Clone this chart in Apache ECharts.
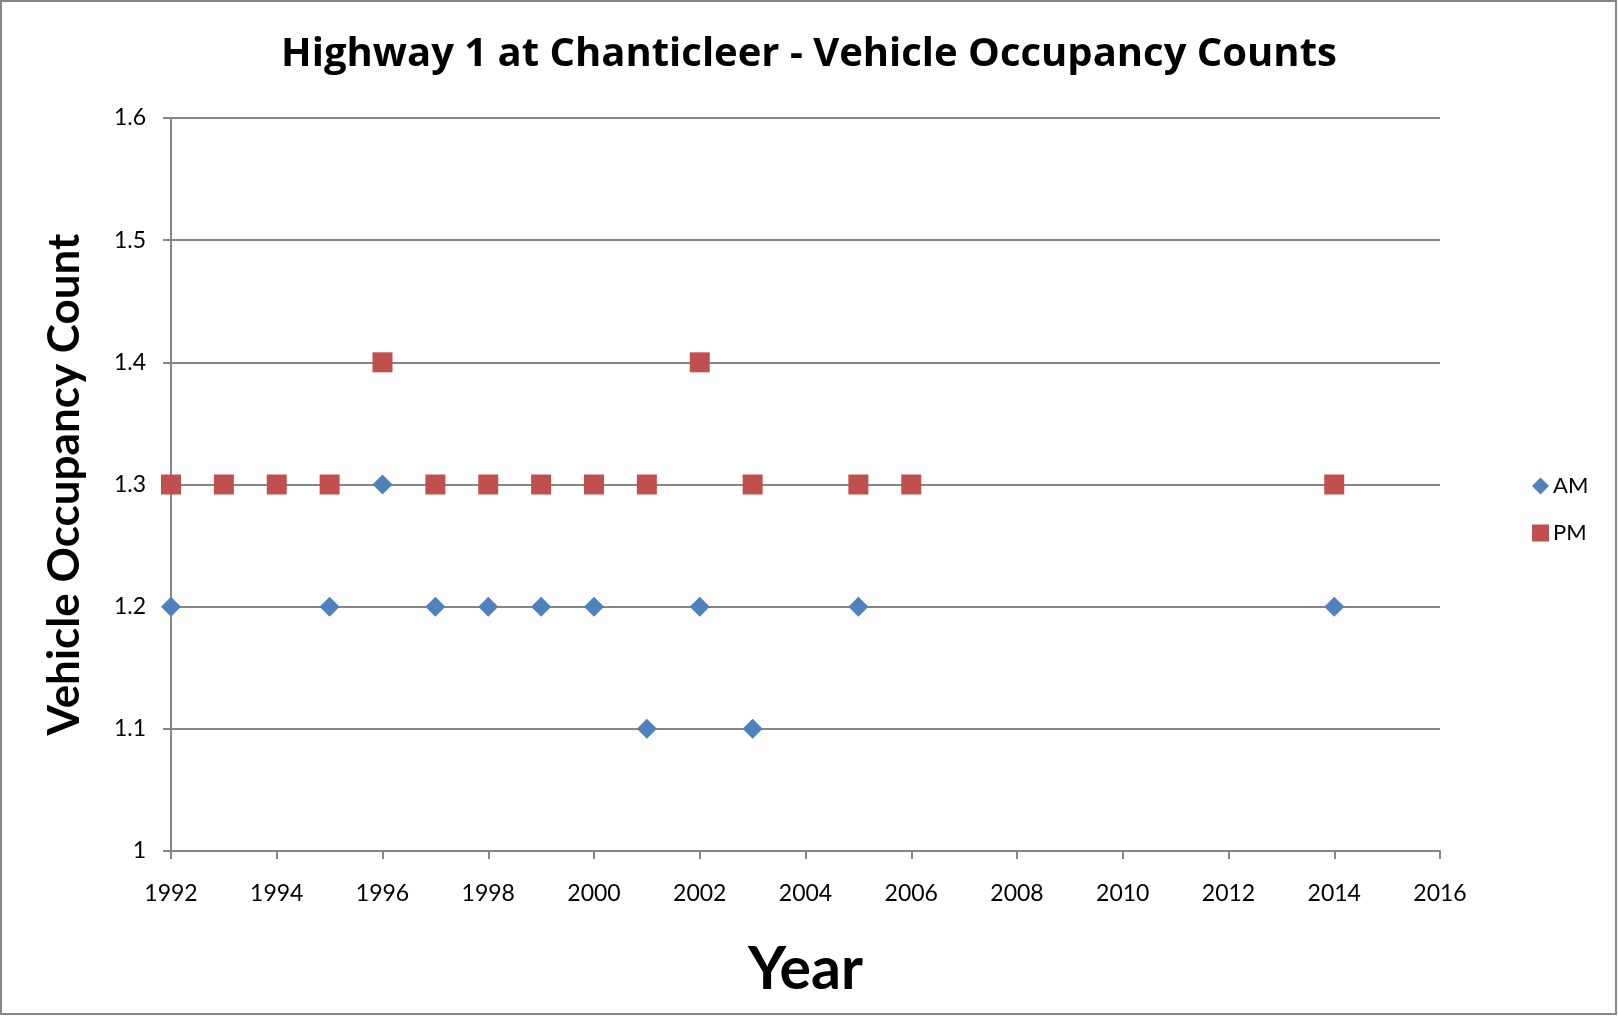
<!DOCTYPE html>
<html>
<head>
<meta charset="utf-8">
<title>Highway 1 at Chanticleer - Vehicle Occupancy Counts</title>
<script src="https://cdn.jsdelivr.net/npm/echarts@6/dist/echarts.min.js"></script>
<style>
  html, body { margin: 0; padding: 0; background: #fff; }
  #chart { width: 1618px; height: 1016px; }
</style>
</head>
<body>
<div id="chart"></div>
<script>
// AM counts
var amYears  = [1992, 1995, 1996, 1997, 1998, 1999, 2000, 2001, 2002, 2003, 2005, 2014];
var amValues = [1.2,  1.2,  1.3,  1.2,  1.2,  1.2,  1.2,  1.1,  1.2,  1.1,  1.2,  1.2];
// PM counts
var pmYears  = [1992, 1993, 1994, 1995, 1996, 1997, 1998, 1999, 2000, 2001, 2002, 2003, 2005, 2006, 2014];
var pmValues = [1.3,  1.3,  1.3,  1.3,  1.4,  1.3,  1.3,  1.3,  1.3,  1.3,  1.4,  1.3,  1.3,  1.3,  1.3];

var font = 'Lato';
var gray = '#868686';

function pairs(xs, ys) {
    return xs.map(function (x, i) { return [x, ys[i]]; });
}

var chart = echarts.init(document.getElementById('chart'));
var option = {
    animation: false,
    textStyle: { fontFamily: font, color: '#000' },
    title: {
        text: 'Highway 1 at Chanticleer - Vehicle Occupancy Counts',
        left: 'center',
        top: 30,
        textStyle: { fontFamily: 'Open Sans', fontSize: 40, fontWeight: 'bold', color: '#000' }
    },
    graphic: [{
        type: 'rect',
        shape: { x: 1, y: 1, width: 1615, height: 1013 },
        style: { fill: 'none', stroke: gray, lineWidth: 2 },
        silent: true
    }],
    legend: {
        orient: 'vertical',
        left: 1527,
        top: 470,
        itemGap: 25,
        itemWidth: 17,
        itemHeight: 17,
        textStyle: { fontFamily: font, fontSize: 22, color: '#000', padding: [0, 0, 0, -1] },
        data: [
            { name: 'AM', icon: 'diamond' },
            { name: 'PM', icon: 'rect' }
        ]
    },
    grid: { left: 171, right: 178, top: 118, bottom: 165 },
    xAxis: {
        type: 'value',
        min: 1992,
        max: 2016,
        interval: 2,
        name: 'Year',
        nameLocation: 'middle',
        nameGap: 89,
        nameTextStyle: { fontFamily: font, fontSize: 59, fontWeight: 'bold', color: '#000' },
        axisLine: { show: true, lineStyle: { color: gray, width: 2 } },
        axisTick: { show: true, inside: false, length: 8, lineStyle: { color: gray, width: 2 } },
        axisLabel: { margin: 31, fontSize: 23, color: '#000', formatter: function (v) { return String(v); } },
        splitLine: { show: false }
    },
    yAxis: {
        type: 'value',
        min: 1,
        max: 1.6,
        interval: 0.1,
        name: 'Vehicle Occupancy Count',
        nameLocation: 'middle',
        nameGap: 84,
        nameTextStyle: { fontFamily: font, fontSize: 44, fontWeight: 'bold', color: '#000' },
        axisLine: { show: true, lineStyle: { color: gray, width: 2 } },
        axisTick: { show: true, inside: false, length: 8, lineStyle: { color: gray, width: 2 } },
        axisLabel: { margin: 25, fontSize: 23, color: '#000' },
        splitLine: { show: true, lineStyle: { color: gray, width: 2 } }
    },
    series: [
        {
            name: 'AM',
            type: 'scatter',
            symbol: 'diamond',
            symbolSize: 20,
            itemStyle: { color: '#4F81BD', opacity: 1 },
            data: pairs(amYears, amValues)
        },
        {
            name: 'PM',
            type: 'scatter',
            symbol: 'rect',
            symbolSize: 20,
            itemStyle: { color: '#C0504D', opacity: 1 },
            data: pairs(pmYears, pmValues)
        }
    ]
};
chart.setOption(option);
</script>
</body>
</html>
